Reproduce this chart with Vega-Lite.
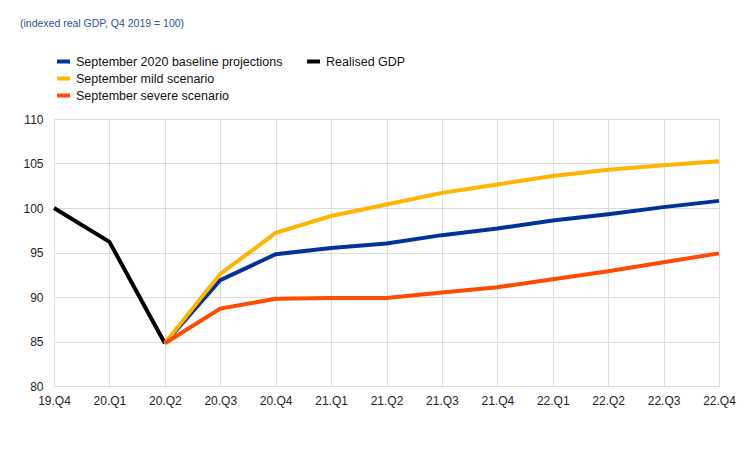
{
  "$schema": "https://vega.github.io/schema/vega-lite/v6.json",
  "autosize": "none",
  "width": 665,
  "height": 267,
  "padding": {"left": 54, "top": 119, "right": 37, "bottom": 64},
  "background": "white",
  "title": {
    "text": "(indexed real GDP, Q4 2019 = 100)",
    "anchor": "start",
    "frame": "group",
    "dx": -34,
    "dy": -15,
    "fontSize": 10.5,
    "fontWeight": "normal",
    "font": "Liberation Sans",
    "color": "#2b4f9e",
    "baseline": "middle"
  },
  "config": {
    "view": {"stroke": null},
    "font": "Liberation Sans",
    "axis": {
      "labelFont": "Liberation Sans",
      "labelFontSize": 12,
      "labelColor": "#222222",
      "gridColor": "#dcdcdc",
      "gridWidth": 1,
      "domain": false,
      "ticks": false,
      "title": null
    },
    "legend": {
      "labelFont": "Liberation Sans",
      "labelFontSize": 12.5,
      "labelColor": "#111111",
      "symbolType": "stroke",
      "symbolStrokeWidth": 4,
      "symbolSize": 169,
      "labelOffset": 4,
      "rowPadding": 0,
      "padding": 0,
      "title": null,
      "labelLimit": 400
    }
  },
  "datasets": {
    "scen": [
      {"q": "20.Q2", "v": 84.8, "s": "September 2020 baseline projections"},
      {"q": "20.Q3", "v": 91.9, "s": "September 2020 baseline projections"},
      {"q": "20.Q4", "v": 94.8, "s": "September 2020 baseline projections"},
      {"q": "21.Q1", "v": 95.5, "s": "September 2020 baseline projections"},
      {"q": "21.Q2", "v": 96.0, "s": "September 2020 baseline projections"},
      {"q": "21.Q3", "v": 96.95, "s": "September 2020 baseline projections"},
      {"q": "21.Q4", "v": 97.7, "s": "September 2020 baseline projections"},
      {"q": "22.Q1", "v": 98.6, "s": "September 2020 baseline projections"},
      {"q": "22.Q2", "v": 99.3, "s": "September 2020 baseline projections"},
      {"q": "22.Q3", "v": 100.1, "s": "September 2020 baseline projections"},
      {"q": "22.Q4", "v": 100.8, "s": "September 2020 baseline projections"},
      {"q": "20.Q2", "v": 84.8, "s": "September mild scenario"},
      {"q": "20.Q3", "v": 92.6, "s": "September mild scenario"},
      {"q": "20.Q4", "v": 97.2, "s": "September mild scenario"},
      {"q": "21.Q1", "v": 99.1, "s": "September mild scenario"},
      {"q": "21.Q2", "v": 100.4, "s": "September mild scenario"},
      {"q": "21.Q3", "v": 101.7, "s": "September mild scenario"},
      {"q": "21.Q4", "v": 102.65, "s": "September mild scenario"},
      {"q": "22.Q1", "v": 103.6, "s": "September mild scenario"},
      {"q": "22.Q2", "v": 104.3, "s": "September mild scenario"},
      {"q": "22.Q3", "v": 104.8, "s": "September mild scenario"},
      {"q": "22.Q4", "v": 105.25, "s": "September mild scenario"},
      {"q": "20.Q2", "v": 84.8, "s": "September severe scenario"},
      {"q": "20.Q3", "v": 88.7, "s": "September severe scenario"},
      {"q": "20.Q4", "v": 89.8, "s": "September severe scenario"},
      {"q": "21.Q1", "v": 89.9, "s": "September severe scenario"},
      {"q": "21.Q2", "v": 89.9, "s": "September severe scenario"},
      {"q": "21.Q3", "v": 90.5, "s": "September severe scenario"},
      {"q": "21.Q4", "v": 91.1, "s": "September severe scenario"},
      {"q": "22.Q1", "v": 92.0, "s": "September severe scenario"},
      {"q": "22.Q2", "v": 92.9, "s": "September severe scenario"},
      {"q": "22.Q3", "v": 93.9, "s": "September severe scenario"},
      {"q": "22.Q4", "v": 94.9, "s": "September severe scenario"}
    ],
    "real": [
      {"q": "19.Q4", "v": 100, "s": "Realised GDP"},
      {"q": "20.Q1", "v": 96.2, "s": "Realised GDP"},
      {"q": "20.Q2", "v": 84.8, "s": "Realised GDP"}
    ]
  },
  "encoding": {
    "x": {
      "field": "q",
      "type": "ordinal",
      "sort": null,
      "scale": {
        "type": "point",
        "padding": 0,
        "domain": ["19.Q4","20.Q1","20.Q2","20.Q3","20.Q4","21.Q1","21.Q2","21.Q3","21.Q4","22.Q1","22.Q2","22.Q3","22.Q4"]
      },
      "axis": {"labelAngle": 0, "labelPadding": 9, "grid": true}
    },
    "y": {
      "field": "v",
      "type": "quantitative",
      "scale": {"domain": [80, 110], "nice": false, "zero": false},
      "axis": {"values": [80, 85, 90, 95, 100, 105, 110], "labelPadding": 11, "grid": true}
    }
  },
  "layer": [
    {
      "data": {"name": "real"},
      "mark": {"type": "line", "strokeWidth": 4, "strokeCap": "butt"},
      "encoding": {
        "color": {
          "field": "s",
          "type": "nominal",
          "scale": {"domain": ["Realised GDP"], "range": ["#000000"]},
          "legend": {"orient": "none", "legendX": 251, "legendY": -66}
        }
      }
    },
    {
      "data": {"name": "scen"},
      "mark": {"type": "line", "strokeWidth": 4, "strokeCap": "butt"},
      "encoding": {
        "color": {
          "field": "s",
          "type": "nominal",
          "sort": null,
          "scale": {
            "domain": ["September 2020 baseline projections", "September mild scenario", "September severe scenario"],
            "range": ["#003299", "#ffb400", "#ff4b00"]
          },
          "legend": {"orient": "none", "legendX": 1, "legendY": -66}
        }
      }
    }
  ],
  "resolve": {"scale": {"color": "independent"}}
}
